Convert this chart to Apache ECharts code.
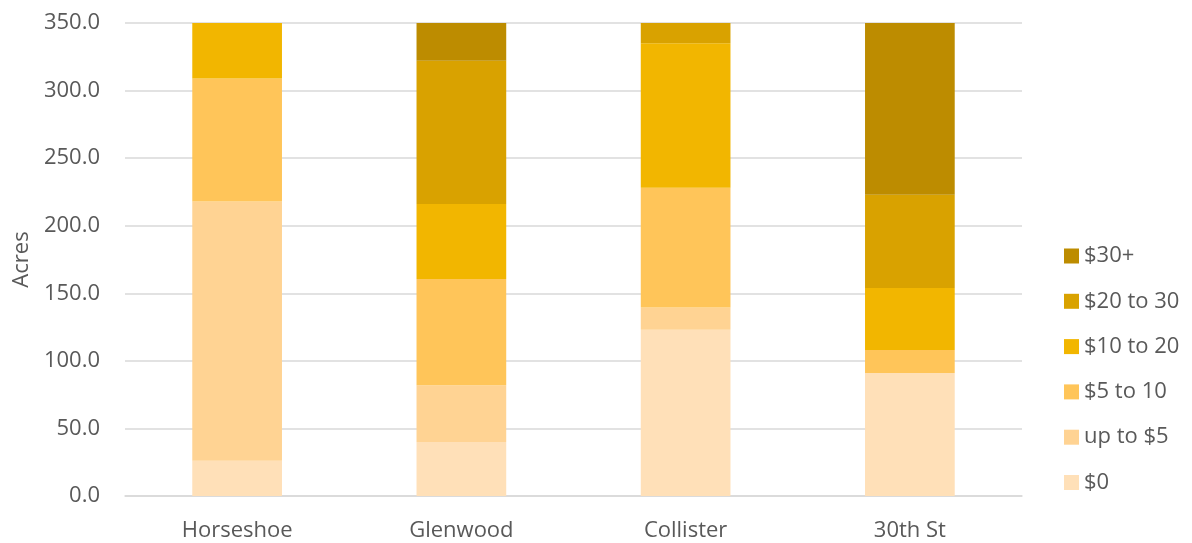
<!DOCTYPE html>
<html><head><meta charset="utf-8">
<script src="https://cdn.jsdelivr.net/npm/echarts@6/dist/echarts.min.js"></script>
<style>html,body{margin:0;padding:0;background:#fff}#c{width:1192px;height:543px}</style>
</head><body><div id="c"></div>
<script>
const categories = ['Horseshoe', 'Glenwood', 'Collister', '30th St'];
const seriesNames = ['$0', 'up to $5', '$5 to 10', '$10 to 20', '$20 to 30', '$30+'];
const s0      = [26, 40, 123, 91];
const sUpTo5  = [192, 42, 16.5, 0];
const s5to10  = [91, 78.5, 88.5, 17];
const s10to20 = [45, 55.5, 107, 46];
const s20to30 = [0, 106, 20, 69];
const s30plus = [0, 30, 0, 130];
const yTicks = [0, 50, 100, 150, 200, 250, 300, 350];

const values = [s0, sUpTo5, s5to10, s10to20, s20to30, s30plus];
const colors = ['#FFE0B8', '#FFD393', '#FFC559', '#F2B600', '#D9A200', '#BD8C00'];
const font = '"Open Sans", "Noto Sans", sans-serif';

const chart = echarts.init(document.getElementById('c'));
chart.setOption({
  animation: false,
  textStyle: {fontFamily: font},
  grid: {left: 125, right: 170, top: 23, bottom: 47},
  legend: {
    orient: 'vertical', left: 1059, top: 240,
    itemWidth: 15, itemHeight: 15, itemGap: 23.3,
    icon: 'rect',
    data: seriesNames.slice().reverse(),
    textStyle: {color: '#595959', fontSize: 22, fontFamily: font}
  },
  xAxis: {
    type: 'category', data: categories,
    axisLine: {lineStyle: {color: '#d9d9d9', width: 1.5}},
    axisTick: {show: false},
    axisLabel: {color: '#595959', fontSize: 22, margin: 24, fontFamily: font}
  },
  yAxis: {
    type: 'value', min: yTicks[0], max: yTicks[yTicks.length-1], interval: 50,
    name: 'Acres', nameLocation: 'middle', nameGap: 90, nameRotate: 90,
    nameTextStyle: {color: '#595959', fontSize: 22, fontFamily: font},
    axisLine: {show: false}, axisTick: {show: false},
    splitLine: {lineStyle: {color: '#d9d9d9', width: 1.5}},
    axisLabel: {color: '#595959', fontSize: 22, margin: 25, fontFamily: font,
      formatter: v => v.toFixed(1)}
  },
  series: seriesNames.map((n, i) => ({
    name: n, type: 'bar', stack: 'total', barWidth: '40%',
    data: values[i],
    itemStyle: {color: colors[i]}
  }))
});
</script></body></html>
